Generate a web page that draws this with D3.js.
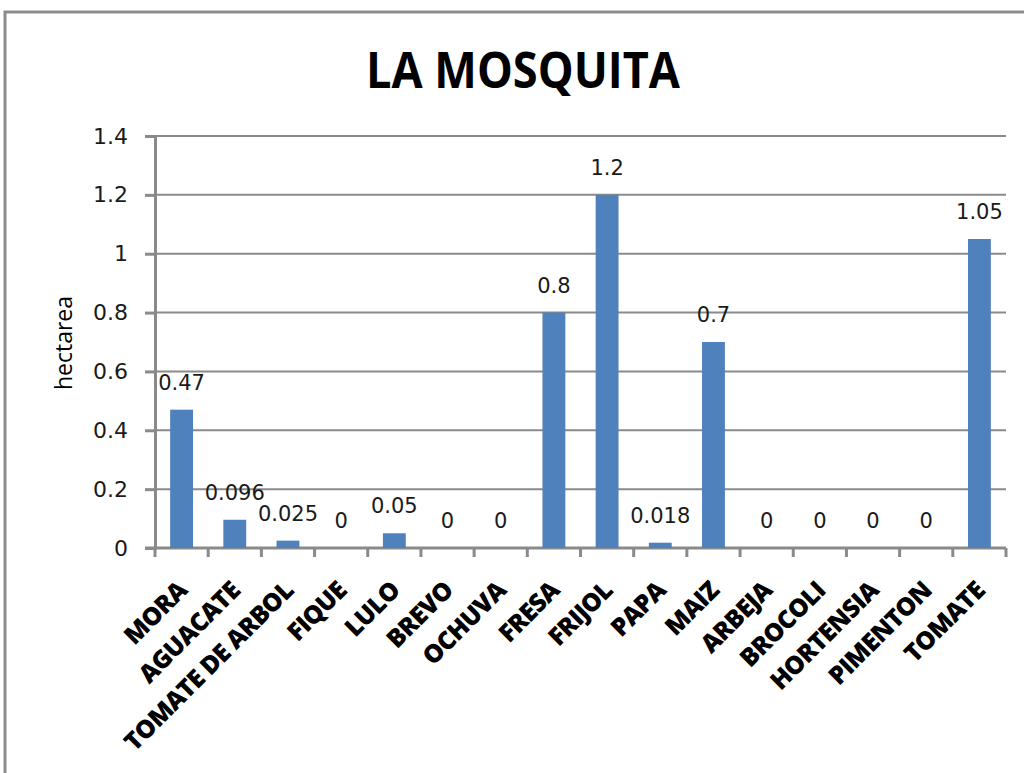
<!DOCTYPE html>
<html>
<head>
<meta charset="utf-8">
<script src="https://cdn.jsdelivr.net/npm/d3@7"></script>
<style>
  body { margin: 0; background: #fff; }
</style>
</head>
<body>
<div id="chart"></div>
<script>
var categories = ['MORA', 'AGUACATE', 'TOMATE DE ARBOL', 'FIQUE', 'LULO', 'BREVO', 'OCHUVA',
  'FRESA', 'FRIJOL', 'PAPA', 'MAIZ', 'ARBEJA', 'BROCOLI', 'HORTENSIA', 'PIMENTON', 'TOMATE'];
var values = [0.47, 0.096, 0.025, 0, 0.05, 0, 0, 0.8, 1.2, 0.018, 0.7, 0, 0, 0, 0, 1.05];
var yTicks = [0, 0.2, 0.4, 0.6, 0.8, 1, 1.2, 1.4];

var width = 1024;
var height = 773;
var svg = d3.select('#chart')
    .append('svg')
    .attr('width', width)
    .attr('height', height);

// outer frame (clipped at right and bottom)
svg.append('rect')
    .attr('x', 5).attr('y', 12)
    .attr('width', 1040).attr('height', 800)
    .attr('fill', 'none')
    .attr('stroke', '#8c8c8c')
    .attr('stroke-width', 3);

var plotLeft = 155, plotRight = 1006, plotTop = 136, plotBottom = 548;

var scaleX = d3.scaleBand()
    .domain(categories)
    .range([plotLeft, plotRight])
    .paddingInner(0.57)
    .paddingOuter(0.285);

var scaleY = d3.scaleLinear()
    .domain([0, 1.4])
    .range([plotBottom, plotTop]);

// Title
svg.append('text')
    .text('LA MOSQUITA')
    .attr('x', 523)
    .attr('y', 88)
    .attr('text-anchor', 'middle')
    .attr('font-family', 'Open Sans, sans-serif')
    .attr('font-weight', 'bold')
    .attr('font-size', 50)
    .attr('textLength', 314)
    .attr('lengthAdjust', 'spacingAndGlyphs')
    .attr('fill', '#000');

// Gridlines
svg.selectAll('line.grid')
    .data(yTicks.slice(1))
    .enter()
    .append('line')
    .attr('class', 'grid')
    .attr('x1', plotLeft).attr('x2', plotRight)
    .attr('y1', function(d) { return scaleY(d); })
    .attr('y2', function(d) { return scaleY(d); })
    .attr('stroke', '#8a8a8a')
    .attr('stroke-width', 2);

// Y axis
var yAxis = d3.axisLeft(scaleY)
    .tickValues(yTicks)
    .tickSize(10)
    .tickPadding(17)
    .tickFormat(function(d) { return String(d); });

var gy = svg.append('g')
    .attr('transform', 'translate(' + plotLeft + ',0)')
    .call(yAxis);
gy.select('.domain').attr('stroke', '#8a8a8a').attr('stroke-width', 3);
gy.selectAll('.tick line').attr('stroke', '#8a8a8a').attr('stroke-width', 3);
gy.selectAll('.tick text')
    .attr('font-family', 'DejaVu Sans, sans-serif')
    .attr('font-size', 22)
    .attr('fill', '#1a1a1a');

// X axis line and ticks at band edges
var step = scaleX.step();
svg.append('line')
    .attr('x1', plotLeft - 10).attr('x2', plotRight)
    .attr('y1', plotBottom).attr('y2', plotBottom)
    .attr('stroke', '#8a8a8a')
    .attr('stroke-width', 3);
svg.selectAll('line.xtick')
    .data(d3.range(categories.length + 1))
    .enter()
    .append('line')
    .attr('class', 'xtick')
    .attr('x1', function(i) { return plotLeft + i * step; })
    .attr('x2', function(i) { return plotLeft + i * step; })
    .attr('y1', plotBottom).attr('y2', plotBottom + 9)
    .attr('stroke', '#8a8a8a')
    .attr('stroke-width', 3);

// Bars
svg.selectAll('rect.bar')
    .data(values)
    .enter()
    .append('rect')
    .attr('class', 'bar')
    .attr('x', function(d, i) { return scaleX(categories[i]); })
    .attr('y', function(d) { return scaleY(d); })
    .attr('width', scaleX.bandwidth())
    .attr('height', function(d) { return plotBottom - scaleY(d); })
    .attr('fill', '#4f81bd');

// Value labels
svg.selectAll('text.val')
    .data(values)
    .enter()
    .append('text')
    .attr('class', 'val')
    .text(function(d) { return String(d); })
    .attr('x', function(d, i) { return scaleX(categories[i]) + scaleX.bandwidth() / 2; })
    .attr('y', function(d) { return scaleY(d) - 20; })
    .attr('text-anchor', 'middle')
    .attr('font-family', 'DejaVu Sans, sans-serif')
    .attr('font-size', 21)
    .attr('fill', '#1a1a1a');

// Category labels
svg.selectAll('text.cat')
    .data(categories)
    .enter()
    .append('text')
    .attr('class', 'cat')
    .text(function(d) { return d; })
    .attr('transform', function(d) {
      var cx = scaleX(d) + scaleX.bandwidth() / 2;
      return 'translate(' + (cx + 7) + ',' + 592 + ') rotate(-45)';
    })
    .attr('text-anchor', 'end')
    .attr('font-family', 'Open Sans, sans-serif')
    .attr('font-weight', 800)
    .attr('font-size', 25)
    .attr('letter-spacing', -0.7)
    .attr('fill', '#000');

// Y axis title
svg.append('text')
    .text('hectarea')
    .attr('transform', 'translate(72,343) rotate(-90)')
    .attr('text-anchor', 'middle')
    .attr('font-family', 'Open Sans, sans-serif')
    .attr('font-size', 23)
    .attr('fill', '#000');
</script>
</body>
</html>
